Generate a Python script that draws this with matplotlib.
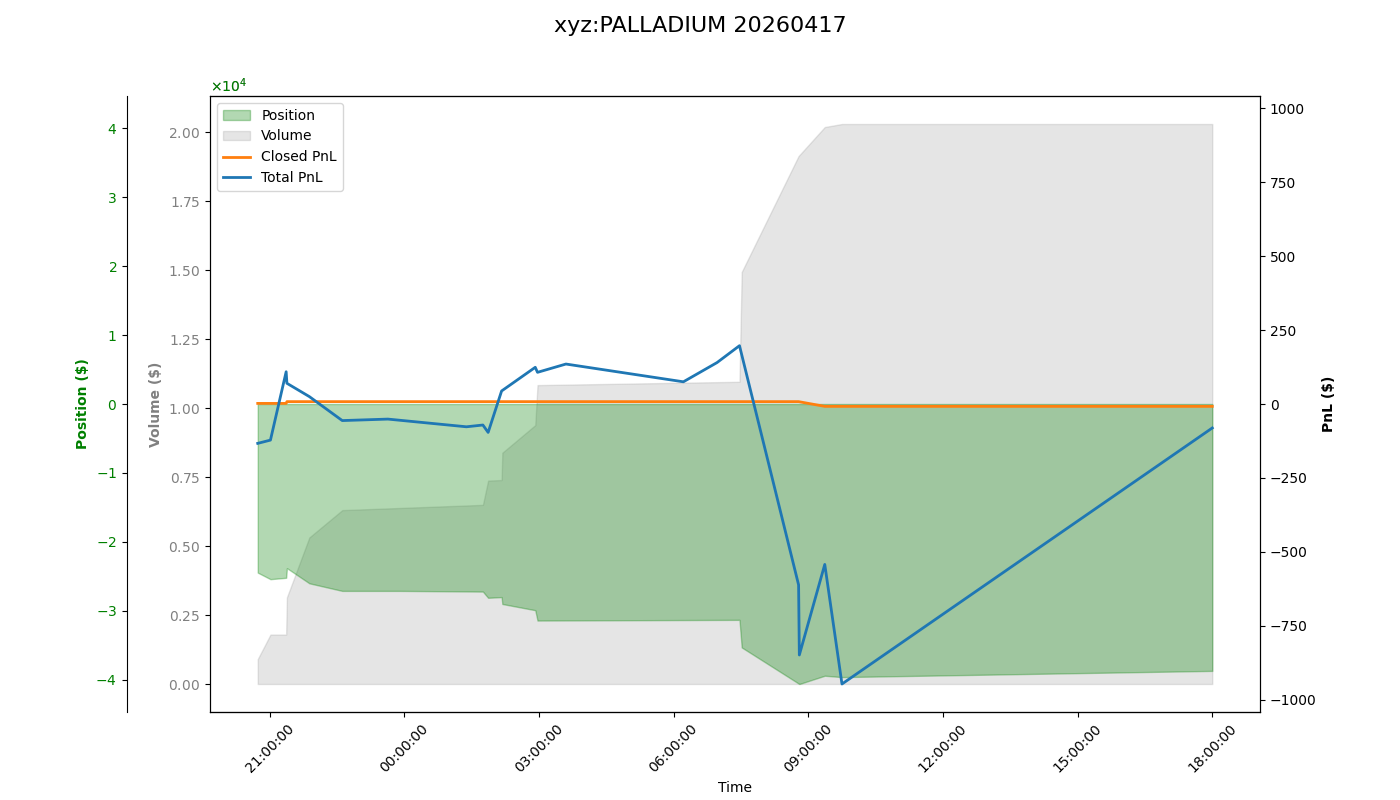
import pandas as pd
import matplotlib.pyplot as plt
import matplotlib.dates as mdates
from matplotlib.patches import Patch
from matplotlib.lines import Line2D

title = 'xyz:PALLADIUM 20260417'

# position (negative = short)
pos_times = ['2026-04-16 20:44', '2026-04-16 21:01', '2026-04-16 21:22', '2026-04-16 21:23',
             '2026-04-16 21:53', '2026-04-16 22:37', '2026-04-16 23:54', '2026-04-17 01:45',
             '2026-04-17 01:52', '2026-04-17 02:10', '2026-04-17 02:11', '2026-04-17 02:55',
             '2026-04-17 02:58', '2026-04-17 07:28', '2026-04-17 07:31', '2026-04-17 08:48',
             '2026-04-17 09:22', '2026-04-17 09:45', '2026-04-17 18:00']
position = [-24450, -25400, -25200, -23800, -26000, -27100, -27100, -27200,
            -28100, -28000, -29000, -29900, -31400, -31300, -35300, -40600,
            -39400, -39600, -38700]

vol_times = ['2026-04-16 20:44', '2026-04-16 21:01', '2026-04-16 21:22', '2026-04-16 21:23',
             '2026-04-16 21:53', '2026-04-16 22:37', '2026-04-17 01:45', '2026-04-17 01:52',
             '2026-04-17 02:10', '2026-04-17 02:11', '2026-04-17 02:55', '2026-04-17 02:58',
             '2026-04-17 07:28', '2026-04-17 07:31', '2026-04-17 08:47', '2026-04-17 09:22',
             '2026-04-17 09:45', '2026-04-17 18:00']
volume = [900, 1790, 1790, 3140, 5310, 6300, 6490, 7370,
          7390, 8380, 9380, 10830, 10950, 14930, 19130, 20180,
          20290, 20290]

pnl_times = ['2026-04-16 20:44', '2026-04-16 21:01', '2026-04-16 21:22', '2026-04-16 21:23',
             '2026-04-16 21:53', '2026-04-16 22:37', '2026-04-16 23:38', '2026-04-17 01:23',
             '2026-04-17 01:45', '2026-04-17 01:52', '2026-04-17 02:10', '2026-04-17 02:55',
             '2026-04-17 02:58', '2026-04-17 03:36', '2026-04-17 06:13', '2026-04-17 06:58',
             '2026-04-17 07:28', '2026-04-17 08:47', '2026-04-17 08:48', '2026-04-17 09:22',
             '2026-04-17 09:45', '2026-04-17 18:00']
total_pnl = [-133, -122, 109, 70, 25, -56, -51, -77,
             -71, -96, 44, 124, 107, 135, 75, 140,
             197, -611, -848, -542, -946, -81]

closed_times = ['2026-04-16 20:44', '2026-04-16 21:22', '2026-04-16 21:23',
                '2026-04-17 08:47', '2026-04-17 09:22', '2026-04-17 18:00']
closed_pnl = [2, 2, 8, 8, -8, -8]

pos_t = pd.to_datetime(pos_times)
vol_t = pd.to_datetime(vol_times)
pnl_t = pd.to_datetime(pnl_times)
closed_t = pd.to_datetime(closed_times)

fig, ax = plt.subplots(figsize=(14, 8), dpi=100)
plt.subplots_adjust(left=0.15)

# volume on host axis
ax.fill_between(vol_t, volume, 0, color='gray', alpha=0.2)
ax.set_ylabel('Volume ($)', color='gray', fontweight='bold')
ax.tick_params(axis='y', labelcolor='gray')
ax.ticklabel_format(axis='y', style='sci', scilimits=(0, 0), useMathText=True)
ax.yaxis.get_offset_text().set_color('gray')

# position on an outward left axis
ax_pos = ax.twinx()
ax_pos.spines['left'].set_position(('outward', 60))
ax_pos.spines['left'].set_visible(True)
ax_pos.spines['right'].set_visible(False)
ax_pos.yaxis.set_label_position('left')
ax_pos.yaxis.set_ticks_position('left')
ax_pos.fill_between(pos_t, position, 0, color='green', alpha=0.3)
lim = max(abs(v) for v in position) * 1.1
ax_pos.set_ylim(-lim, lim)
ax_pos.set_ylabel('Position ($)', color='green', fontweight='bold')
ax_pos.tick_params(axis='y', labelcolor='green')
ax_pos.ticklabel_format(axis='y', style='sci', scilimits=(0, 0), useMathText=True)
ax_pos.yaxis.get_offset_text().set_color('green')

# pnl on right axis
ax_pnl = ax.twinx()
ax_pnl.plot(closed_t, closed_pnl, color='tab:orange', lw=2)
ax_pnl.plot(pnl_t, total_pnl, color='tab:blue', lw=2)
lim = max(abs(v) for v in total_pnl + closed_pnl) * 1.1
ax_pnl.set_ylim(-lim, lim)
ax_pnl.set_ylabel('PnL ($)', fontweight='bold')

ax.xaxis.set_major_locator(mdates.HourLocator(byhour=range(0, 24, 3)))
ax.xaxis.set_major_formatter(mdates.DateFormatter('%H:%M:%S'))
ax.tick_params(axis='x', rotation=45)
ax.set_xlabel('Time')

handles = [Patch(facecolor='green', alpha=0.3, edgecolor='green', label='Position'),
           Patch(facecolor='gray', alpha=0.2, edgecolor='gray', label='Volume'),
           Line2D([], [], color='tab:orange', lw=2, label='Closed PnL'),
           Line2D([], [], color='tab:blue', lw=2, label='Total PnL')]
ax_pnl.legend(handles=handles, loc='upper left')

fig.suptitle(title, fontsize=16)
plt.savefig('out.png')
